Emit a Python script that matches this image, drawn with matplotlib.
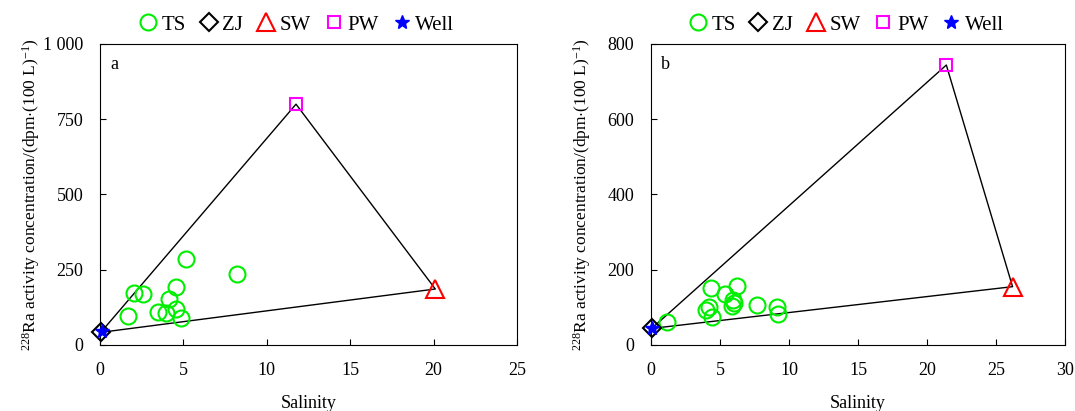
import matplotlib
matplotlib.use('Agg')
import matplotlib.pyplot as plt
from matplotlib.ticker import FuncFormatter

plt.rcParams['font.family'] = ['Liberation Serif', 'DejaVu Serif']
plt.rcParams['mathtext.fontset'] = 'custom'
plt.rcParams['mathtext.rm'] = 'Liberation Serif'
plt.rcParams['mathtext.it'] = 'Liberation Serif:italic'

# panel a
ts_sal_a = [5.13, 8.24, 2.05, 2.6, 4.53, 4.15, 1.66, 3.45, 3.95, 4.55, 4.85]
ts_ra_a = [286, 235, 174, 169, 192, 153, 97, 110, 107, 120, 91]
zj_a = (0.05, 42)
well_a = (0.1, 48)
sw_a = (20.1, 186)
pw_a = (11.75, 800)

# panel b
ts_sal_b = [1.18, 4.35, 6.21, 5.39, 5.97, 6.01, 5.87, 4.2, 3.96, 4.4, 7.66, 9.1, 9.23]
ts_ra_b = [61, 151, 157, 136, 120, 111, 104, 102, 93, 74, 107, 100, 83]
zj_b = (0.05, 44)
well_b = (0.1, 46)
sw_b = (26.2, 155)
pw_b = (21.4, 744)

def thousands(v, pos):
    v = int(round(v))
    if v >= 1000:
        return f'{v // 1000} {v % 1000:03d}'
    return str(v)

def draw(ax, ts_x, ts_y, zj, well, sw, pw, xmax, ymax, ystep, label, width_px):
    ax.plot([zj[0], pw[0], sw[0], zj[0]], [zj[1], pw[1], sw[1], zj[1]], color='black', lw=1, zorder=1)
    ax.plot(ts_x, ts_y, 'o', ms=11.5, mfc='none', mec='#00ee00', mew=1.5, label='TS', zorder=3)
    ax.plot([zj[0]], [zj[1]], 'D', ms=9.5, mfc='none', mec='black', mew=1.5, label='ZJ', zorder=4, clip_on=False)
    ax.plot([sw[0]], [sw[1]], '^', ms=13, mfc='none', mec='red', mew=1.5, label='SW', zorder=3)
    ax.plot([pw[0]], [pw[1]], 's', ms=8.5, mfc='none', mec='magenta', mew=1.5, label='PW', zorder=3)
    ax.plot([well[0]], [well[1]], '*', ms=10, mfc='blue', mec='blue', mew=1, label='Well', zorder=5, clip_on=False)
    ax.set_xlim(0, xmax)
    ax.set_ylim(0, ymax)
    ax.set_yticks(range(0, ymax + 1, ystep))
    ax.yaxis.set_major_formatter(FuncFormatter(thousands))
    ax.tick_params(direction='in', labelsize=13, length=4, pad=12)
    ax.set_xlabel('Salinity', fontsize=13, labelpad=12)
    ax.set_ylabel(r'$^{228}$Ra activity concentration/(dpm$\cdot$(100 L)$^{-1}$)', fontsize=12.5)
    ax.yaxis.set_label_coords(-58 / width_px, 0.5)
    ax.text(0.025, 0.96, label, transform=ax.transAxes, fontsize=13, va='top')
    ax.legend(loc='lower center', bbox_to_anchor=(0.47, 1.003), ncol=5, frameon=False,
              fontsize=15, handletextpad=0.15, columnspacing=0.6, borderaxespad=0, handlelength=1.0)

fig = plt.figure(figsize=(10.75, 4.11), dpi=100)
ax1 = fig.add_axes([0.093, 0.1606, 0.388, 0.7324])
ax2 = fig.add_axes([0.6056, 0.1606, 0.3851, 0.7324])

draw(ax1, ts_sal_a, ts_ra_a, zj_a, well_a, sw_a, pw_a, 25, 1000, 250, 'a', 417)
draw(ax2, ts_sal_b, ts_ra_b, zj_b, well_b, sw_b, pw_b, 30, 800, 200, 'b', 414)

fig.savefig('out.png', dpi=100)
